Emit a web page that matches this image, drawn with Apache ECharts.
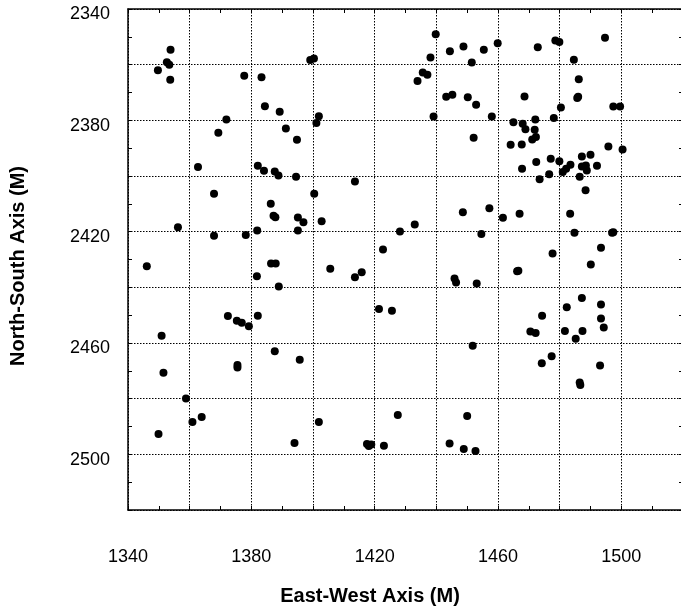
<!DOCTYPE html>
<html>
<head>
<meta charset="utf-8">
<script src="https://cdn.jsdelivr.net/npm/echarts@6/dist/echarts.min.js"></script>
<style>
  html, body { margin: 0; padding: 0; background: #fff; }
  #chart { width: 681px; height: 611px; }
</style>
</head>
<body>
<div id="chart"></div>
<script>
// East-West position of each point (M)
const eastWest = [
  1353.8, 1352.6, 1353.4, 1349.7, 1353.7, 1377.7, 1383.3, 1399.1, 1400.3, 1384.4,
  1389.2, 1371.9, 1369.3, 1401.9, 1401.1, 1391.2, 1394.8, 1362.7, 1382.1, 1384.1,
  1387.6, 1388.8, 1394.5, 1367.9, 1400.4, 1386.3, 1387.2, 1387.8, 1395.1, 1396.9,
  1402.8, 1356.2, 1367.9, 1378.2, 1381.9, 1395.1, 1346.1, 1386.4, 1387.9, 1381.8,
  1405.6, 1388.9,
  1439.8, 1494.7, 1444.4, 1448.8, 1455.4, 1459.9, 1472.9, 1478.6, 1479.9, 1438.1,
  1451.5, 1484.6, 1435.6, 1437.1, 1433.9, 1486.2, 1443.2, 1445.2, 1450.2, 1452.9,
  1468.6, 1485.7, 1486.0, 1480.4, 1497.4, 1499.6, 1439.1, 1458.0, 1465.0, 1468.0,
  1472.1, 1478.1, 1468.9, 1471.9, 1472.3, 1471.1, 1452.1, 1464.1, 1467.7, 1495.8,
  1500.4, 1487.2, 1490.0, 1477.1, 1472.4, 1479.9, 1483.5, 1487.2, 1488.5, 1492.1,
  1488.8, 1482.1, 1481.0, 1467.8, 1476.6, 1473.5, 1486.5, 1488.4, 1413.6, 1448.6,
  1457.2, 1461.6, 1467.0, 1483.4, 1428.2, 1433.0, 1454.6, 1484.8, 1497.0, 1497.4,
  1422.7, 1477.7, 1493.4, 1490.1, 1413.6, 1415.8, 1445.9, 1446.4, 1453.1, 1466.2,
  1466.6, 1487.2,
  1372.4, 1375.3, 1376.9, 1379.2, 1382.1, 1350.9, 1387.6, 1395.7, 1375.5, 1375.5,
  1351.5, 1358.8, 1360.9, 1363.9, 1401.9, 1349.9, 1394.0,
  1421.4, 1425.6, 1482.3, 1493.4, 1474.3, 1493.4, 1494.3, 1470.5, 1472.2, 1481.7,
  1487.4, 1485.2, 1451.8, 1477.4, 1474.2, 1493.1, 1486.5, 1486.7, 1427.5, 1450.0,
  1417.5, 1418.9, 1418.1, 1423.0, 1444.3, 1448.9, 1452.7,
];

// North-South position of each point (M)
const northSouth = [
  2354.6, 2359.1, 2360.0, 2362.0, 2365.4, 2364.0, 2364.5, 2358.3, 2357.8, 2374.9,
  2376.9, 2379.7, 2384.5, 2378.5, 2381.0, 2382.9, 2387.0, 2396.8, 2396.3, 2398.1,
  2398.4, 2399.8, 2400.3, 2406.4, 2406.4, 2410.0, 2414.3, 2414.8, 2414.9, 2416.6,
  2416.3, 2418.4, 2421.5, 2421.2, 2419.6, 2419.6, 2432.4, 2431.4, 2431.4, 2436.0,
  2433.3, 2439.7,
  2349.1, 2350.3, 2355.2, 2353.5, 2354.6, 2352.3, 2353.7, 2351.3, 2351.9, 2357.4,
  2359.2, 2358.2, 2362.8, 2363.6, 2365.9, 2365.2, 2371.5, 2370.8, 2371.7, 2374.4,
  2371.4, 2372.0, 2371.5, 2375.4, 2375.0, 2375.0, 2378.6, 2378.6, 2380.7, 2381.2,
  2379.7, 2379.2, 2383.2, 2383.4, 2386.0, 2386.9, 2386.3, 2388.8, 2388.7, 2389.4,
  2390.5, 2393.0, 2392.4, 2393.8, 2395.0, 2394.7, 2396.0, 2396.6, 2396.2, 2396.3,
  2398.0, 2397.4, 2398.6, 2397.4, 2399.4, 2401.2, 2400.3, 2405.1, 2402.0, 2413.0,
  2411.6, 2415.0, 2413.6, 2413.6, 2419.9, 2417.4, 2420.8, 2420.4, 2420.4, 2420.2,
  2426.4, 2427.8, 2425.8, 2431.8, 2436.4, 2434.6, 2436.8, 2438.3, 2438.6, 2434.2,
  2434.0, 2443.8,
  2450.3, 2452.0, 2452.7, 2454.0, 2450.2, 2457.4, 2463.0, 2466.0, 2467.9, 2468.8,
  2470.7, 2479.9, 2488.4, 2486.6, 2488.4, 2492.7, 2495.9,
  2447.8, 2448.4, 2447.2, 2446.2, 2450.2, 2451.2, 2454.4, 2455.9, 2456.4, 2455.7,
  2455.7, 2458.5, 2461.0, 2464.8, 2467.3, 2468.1, 2474.2, 2475.1, 2485.9, 2486.2,
  2496.3, 2496.5, 2497.0, 2496.9, 2496.1, 2498.1, 2498.8,
];

const xTitle = "East-West Axis (M)";
const yTitle = "North-South Axis (M)";

const fontFamily = "'Liberation Sans', Arial, sans-serif";

// shared look for the frame axes
const frameLine = { show: true, lineStyle: { color: "#000", width: 1.5 } };
const tickStyle = { show: true, inside: true, length: 4, lineStyle: { color: "#000", width: 1 } };
const minorStyle = { show: true, splitNumber: 2, length: 4, lineStyle: { color: "#000", width: 1 } };
const gridDots = { show: true, lineStyle: { color: "#000", width: 1, type: [1.5, 1.5] } };

const chart = echarts.init(document.getElementById("chart"));
chart.setOption({
  animation: false,
  backgroundColor: "#fff",
  // plot runs past the right edge of the picture, like the scan
  grid: { left: 128, top: 9, width: 555, height: 501, outerBoundsMode: "none", containLabel: false },
  xAxis: [
    {
      type: "value",
      min: 1340,
      max: 1520,
      interval: 20,
      axisLine: frameLine,
      axisTick: tickStyle,
      minorTick: minorStyle,
      splitLine: gridDots,
      axisLabel: {
        margin: 38,
        color: "#000",
        fontSize: 18,
        fontFamily: fontFamily,
        formatter: (v) => ((v - 1340) % 40 === 0 && v < 1520 ? String(v) : ""),
      },
    },
    {
      type: "value",
      position: "top",
      min: 1340,
      max: 1520,
      interval: 20,
      axisLine: frameLine,
      axisTick: tickStyle,
      minorTick: minorStyle,
      splitLine: { show: false },
      axisLabel: { show: false },
    },
  ],
  yAxis: [
    {
      type: "value",
      inverse: true,
      min: 2340,
      max: 2520,
      interval: 20,
      axisLine: frameLine,
      axisTick: tickStyle,
      minorTick: minorStyle,
      splitLine: gridDots,
      axisLabel: {
        margin: 18,
        color: "#000",
        fontSize: 18,
        fontFamily: fontFamily,
        // labels sit a little below their gridline
        formatter: (v) => ((v - 2340) % 40 === 0 && v < 2520 ? "{n|" + v + "}" : ""),
        rich: {
          n: { fontSize: 18, fontFamily: fontFamily, color: "#000", padding: [11, 0, 0, 0] },
        },
      },
    },
    {
      type: "value",
      position: "right",
      inverse: true,
      min: 2340,
      max: 2520,
      interval: 20,
      axisLine: frameLine,
      axisTick: tickStyle,
      minorTick: minorStyle,
      splitLine: { show: false },
      axisLabel: { show: false },
    },
  ],
  graphic: [
    {
      type: "text",
      x: 370,
      y: 596,
      style: {
        text: xTitle,
        fill: "#000",
        font: "bold 20px " + fontFamily,
        textAlign: "center",
        textVerticalAlign: "middle",
      },
    },
    {
      type: "text",
      x: 18,
      y: 266,
      rotation: Math.PI / 2,
      style: {
        text: yTitle,
        fill: "#000",
        font: "bold 20px " + fontFamily,
        textAlign: "center",
        textVerticalAlign: "middle",
      },
    },
  ],
  series: [
    {
      type: "scatter",
      xAxisIndex: 0,
      yAxisIndex: 0,
      symbolSize: 8,
      itemStyle: { color: "#000", opacity: 1 },
      data: eastWest.map((x, i) => [x, northSouth[i]]),
    },
  ],
});
</script>
</body>
</html>
